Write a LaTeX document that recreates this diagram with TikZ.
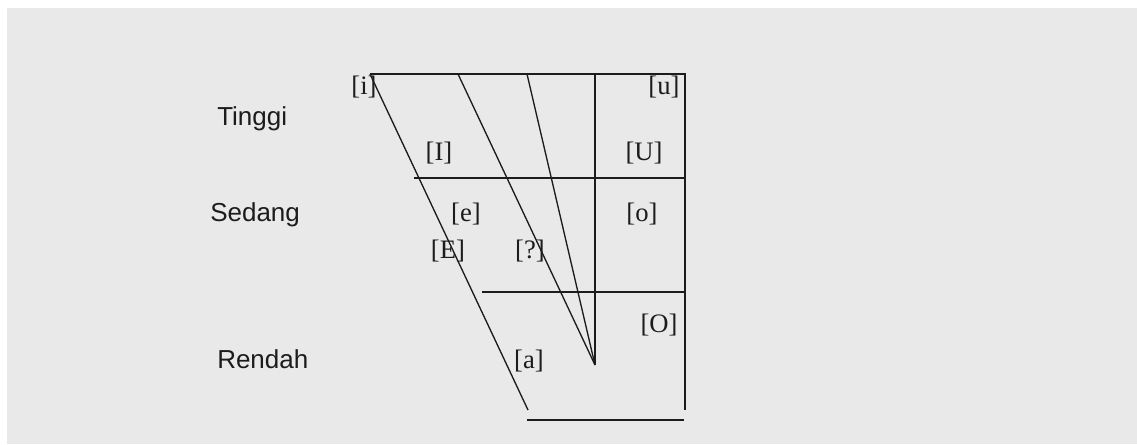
\documentclass[tikz,border=0pt]{standalone}
\usepackage{fontspec}
\setmainfont{Liberation Serif}
\setsansfont{Liberation Sans}
\usetikzlibrary{positioning}
\definecolor{paper}{HTML}{E9E9E9}
\definecolor{ink}{HTML}{1C1C1C}
\tikzset{vowel/.style={font=\fontsize{20}{22}\selectfont,text=ink,inner sep=0pt},
 level/.style={font=\sffamily\fontsize{19.5}{22}\selectfont,text=ink,inner sep=0pt,anchor=west},
 chart/.style={draw=ink,line width=1pt}}

\begin{document}
\begin{tikzpicture}[x=0.75pt,y=-0.75pt]
\useasboundingbox (0,0) rectangle (1137,444);
\fill[paper] (7,8) rectangle (1137,444);
% frame points
\coordinate (tl) at (370,74);\coordinate (tr) at (685,74);
\coordinate (tm) at (595,74);\coordinate (v) at (595,365);
\coordinate (d2) at (458,74);\coordinate (d3) at (527,74);
\coordinate (bl) at (528,410);\coordinate (br) at (685,410);
\coordinate (h1) at (414,178);\coordinate (h1e) at (685,178);
\coordinate (h2) at (482,292);\coordinate (h2e) at (685,292);
\coordinate (b1) at (527,420);\coordinate (b2) at (684,420);
\draw[chart] (tl)--(tr)--(br);
\draw[chart] (tl)--(bl);
\draw[chart] (tm)--(v);\draw[chart] (d2)--(v);\draw[chart] (d3)--(v);
\draw[chart] (h1)--(h1e);\draw[chart] (h2)--(h2e);
\draw[chart] (b1)--(b2);
% vowels
\node[vowel] (i) at (364,87) {[i]};
\node[vowel] (u) at (664,87) {[u]};
\node[vowel] (I) at (439,153) {[I]};
\node[vowel] (U) at (644,153) {[U]};
\node[vowel] (e) at (466,214) {[e]};
\node[vowel] (o) at (642,214) {[o]};
\node[vowel] (E) at (448,251) {[E]};
\node[vowel] (schwa) at (530,251) {[?]};
\node[vowel] (O) at (659,325) {[O]};
\node[vowel] (a) at (529,361) {[a]};
% heights
\node[level] (ting) at (217,119) {Tinggi};
\node[level] (sed) at (210,215) {Sedang};
\node[level] (ren) at (217,359) {Rendah};
\end{tikzpicture}
\end{document}
